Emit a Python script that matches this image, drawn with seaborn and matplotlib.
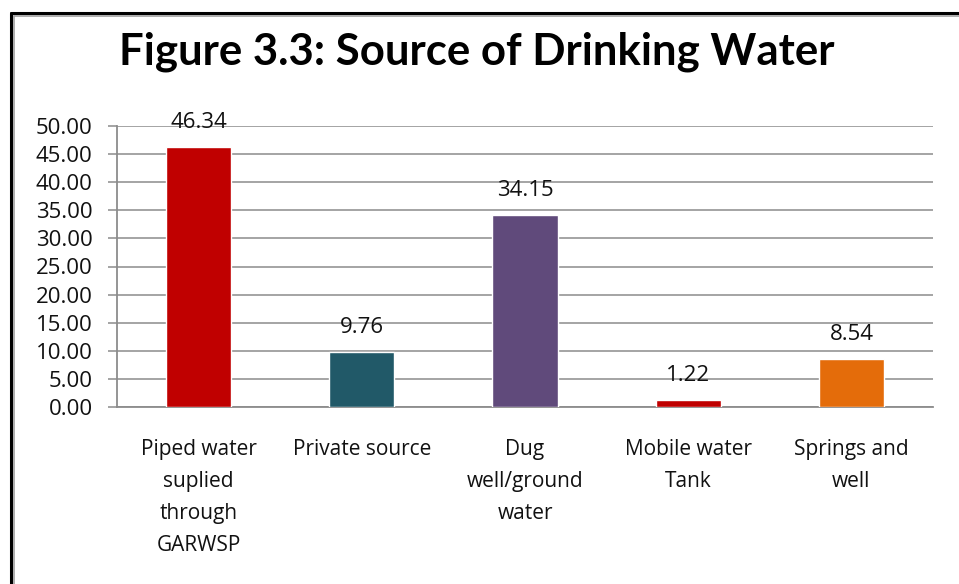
import matplotlib
matplotlib.use("Agg")
import matplotlib.pyplot as plt
import seaborn as sns
import pandas as pd
from matplotlib.lines import Line2D

categories = ["Piped water\nsuplied\nthrough\nGARWSP", "Private source",
              "Dug\nwell/ground\nwater", "Mobile water\nTank", "Springs and\nwell"]
values = [46.34, 9.76, 34.15, 1.22, 8.54]
bar_colors = ["#C00000", "#215968", "#604A7B", "#C00000", "#E46C0A"]
y_ticks = [0, 5, 10, 15, 20, 25, 30, 35, 40, 45, 50]

sns.set_theme(style="white")
plt.rcParams["font.family"] = ["Open Sans", "DejaVu Sans"]

df = pd.DataFrame({"source": categories, "pct": values})

fig = plt.figure(figsize=(9.59, 5.84), dpi=100)
ax = fig.add_axes([117 / 959, 1 - 407 / 584, (933 - 117) / 959, (407 - 126) / 584])

sns.barplot(data=df, x="source", y="pct", hue="source", palette=bar_colors,
            legend=False, width=0.4, saturation=1, ax=ax, zorder=3)

ax.set_ylim(0, 50)
ax.set_yticks(y_ticks)
ax.set_yticklabels([f"{t:.2f}" for t in y_ticks], fontsize=16, color="#111111")
ax.grid(axis="y", color="#8c8c8c", linewidth=1.1, zorder=0)
ax.set_axisbelow(True)
ax.set_xlabel("")
ax.set_ylabel("")
ax.tick_params(axis="y", which="major", length=6.5, width=1.1, color="#8c8c8c",
               left=True, pad=11)
ax.tick_params(axis="x", length=0, pad=23)
for lab in ax.get_xticklabels():
    lab.set_fontsize(15)
    lab.set_color("#111111")
    lab.set_linespacing(1.68)
    lab.set_verticalalignment("top")

for side in ["top", "right"]:
    ax.spines[side].set_visible(False)
for side in ["left", "bottom"]:
    ax.spines[side].set_color("#8c8c8c")
    ax.spines[side].set_linewidth(1.3)

for i, v in enumerate(values):
    ax.annotate(f"{v:.2f}", (i, v), xytext=(0, 10), textcoords="offset points",
                ha="center", va="bottom", fontsize=16, color="#111111")

fig.text(0.497, 1 - 52 / 584, "Figure 3.3: Source of Drinking Water",
         ha="center", va="center", fontsize=31.5, fontweight="bold", color="#000000",
         family=["Lato", "DejaVu Sans"])

# outer chart frame (top and left edges)
fig.add_artist(Line2D([11 / 959, 1], [1 - 13 / 584, 1 - 13 / 584],
                      transform=fig.transFigure, color="#000000", linewidth=2.2))
fig.add_artist(Line2D([11 / 959, 11 / 959], [0, 1 - 13 / 584],
                      transform=fig.transFigure, color="#000000", linewidth=2.2))
fig.add_artist(Line2D([13.5 / 959, 1], [1 - 15.5 / 584, 1 - 15.5 / 584],
                      transform=fig.transFigure, color="#a0a0a0", linewidth=1.2))
fig.add_artist(Line2D([13.5 / 959, 13.5 / 959], [0, 1 - 15.5 / 584],
                      transform=fig.transFigure, color="#a0a0a0", linewidth=1.2))

fig.savefig("out.png", dpi=100)
